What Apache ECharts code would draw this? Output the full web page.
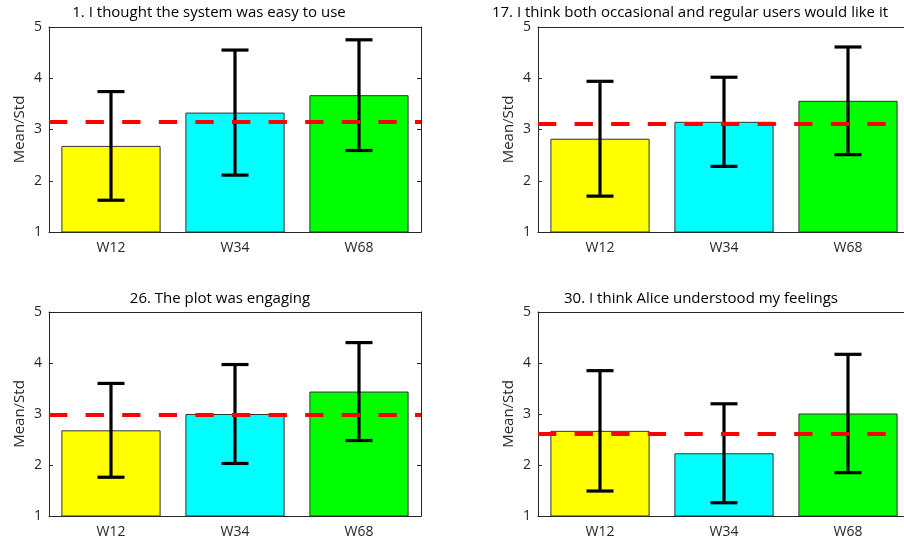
<!DOCTYPE html>
<html>
<head>
<meta charset="utf-8">
<script src="https://cdn.jsdelivr.net/npm/echarts@6/dist/echarts.min.js"></script>
<style>
html, body { margin: 0; padding: 0; background: #fff; }
#chart { width: 904px; height: 543px; }
</style>
</head>
<body>
<div id="chart"></div>
<script>
// questionnaire items, one panel each
const titles = [
	'1. I thought the system was easy to use',
	'17. I think both occasional and regular users would like it',
	'26. The plot was engaging',
	'30. I think Alice understood my feelings'
];
const categories = ['W12', 'W34', 'W68'];
const yTicks = [1, 2, 3, 4, 5];

// mean per group, per panel
const means = [
	[2.68, 3.33, 3.67],
	[2.82, 3.15, 3.56],
	[2.68, 3.00, 3.44],
	[2.67, 2.23, 3.01]
];
// std per group, per panel (error bar = mean +/- std)
const stds = [
	[1.06, 1.22, 1.08],
	[1.12, 0.87, 1.05],
	[0.92, 0.97, 0.96],
	[1.18, 0.97, 1.16]
];
// overall mean (red dashed line)
const overall = [3.15, 3.11, 2.98, 2.61];

const barColors = ['#ffff00', '#00ffff', '#00ff00'];
const ink = '#262626';
const font = 'Open Sans';

// panel boxes, px (right column runs a bit past the window, like the source)
const panels = [
	{ left: 49, top: 27, width: 372, height: 205, titleX: 209, titleY: 13 },
	{ left: 538, top: 27, width: 372, height: 205, titleX: 690, titleY: 13 },
	{ left: 49, top: 312, width: 372, height: 204, titleX: 220, titleY: 299 },
	{ left: 538, top: 312, width: 372, height: 204, titleX: 701, titleY: 299 }
];

function renderErr(params, api) {
	const x = api.value(0);
	const lo = api.coord([x, api.value(1)]);
	const hi = api.coord([x, api.value(2)]);
	const half = 13.5;
	const style = { stroke: '#000', lineWidth: 3.2 };
	return {
		type: 'group',
		children: [
			{ type: 'line', shape: { x1: lo[0], y1: lo[1], x2: hi[0], y2: hi[1] }, style: style },
			{ type: 'line', shape: { x1: hi[0] - half, y1: hi[1], x2: hi[0] + half, y2: hi[1] }, style: style },
			{ type: 'line', shape: { x1: lo[0] - half, y1: lo[1], x2: lo[0] + half, y2: lo[1] }, style: style }
		]
	};
}

const grid = [];
const xAxis = [];
const yAxis = [];
const series = [];
const graphic = [];

panels.forEach((p, i) => {
	// outerBoundsMode none: keep the px box, don't squeeze it into the window
	grid.push({ left: p.left, top: p.top, width: p.width, height: p.height, outerBoundsMode: 'none', containLabel: false });
	const line = { lineStyle: { color: ink, width: 1 } };
	// bottom + top category axes (box with ticks inside)
	xAxis.push({
		type: 'category', gridIndex: i, data: categories, position: 'bottom',
		axisLine: line,
		axisTick: { inside: true, alignWithLabel: true, length: 4, lineStyle: { color: ink } },
		axisLabel: { color: ink, fontSize: 14, fontFamily: font, margin: 9 }
	});
	xAxis.push({
		type: 'category', gridIndex: i, data: categories, position: 'top',
		axisLine: line,
		axisTick: { inside: true, alignWithLabel: true, length: 4, lineStyle: { color: ink } },
		axisLabel: { show: false }
	});
	// left + right value axes
	yAxis.push({
		type: 'value', gridIndex: i, position: 'left', min: yTicks[0], max: yTicks[yTicks.length - 1], interval: 1,
		name: 'Mean/Std', nameLocation: 'middle', nameGap: 22,
		nameTextStyle: { color: ink, fontSize: 15, fontFamily: font },
		axisLine: { show: true, lineStyle: { color: ink, width: 1 } },
		axisTick: { show: true, inside: true, length: 4, lineStyle: { color: ink } },
		axisLabel: { color: ink, fontSize: 14, fontFamily: font, margin: 7 },
		splitLine: { show: false }
	});
	yAxis.push({
		type: 'value', gridIndex: i, position: 'right', min: yTicks[0], max: yTicks[yTicks.length - 1], interval: 1,
		axisLine: { show: true, lineStyle: { color: ink, width: 1 } },
		axisTick: { show: true, inside: true, length: 4, lineStyle: { color: ink } },
		axisLabel: { show: false },
		splitLine: { show: false }
	});

	series.push({
		type: 'bar',
		xAxisIndex: 2 * i,
		yAxisIndex: 2 * i,
		barWidth: '80%',
		z: 2,
		data: means[i].map((v, j) => ({
			value: v,
			itemStyle: { color: barColors[j], borderColor: '#333', borderWidth: 1 }
		})),
		markLine: {
			silent: true,
			symbol: 'none',
			label: { show: false },
			lineStyle: { color: '#ff0000', width: 4, type: [18.3, 18.3] },
			data: [{ yAxis: overall[i] }]
		}
	});
	series.push({
		type: 'custom',
		xAxisIndex: 2 * i,
		yAxisIndex: 2 * i,
		z: 3,
		renderItem: renderErr,
		encode: { x: 0, y: [1, 2] },
		data: means[i].map((m, j) => [j, m - stds[i][j], m + stds[i][j]])
	});

	graphic.push({
		type: 'text',
		x: p.titleX,
		y: p.titleY,
		style: {
			text: titles[i],
			fill: '#000',
			font: '15px "' + font + '"',
			textAlign: 'center',
			textVerticalAlign: 'middle'
		}
	});
});

const chart = echarts.init(document.getElementById('chart'), null, { renderer: 'canvas' });
chart.setOption({
	animation: false,
	backgroundColor: '#fff',
	grid: grid,
	xAxis: xAxis,
	yAxis: yAxis,
	series: series,
	graphic: graphic
});
</script>
</body>
</html>
